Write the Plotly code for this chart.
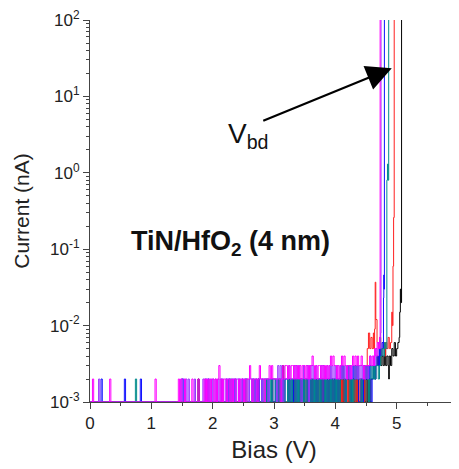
import plotly.graph_objects as go

# Sweep step of the measurement (V) and current resolution (nA per digit)
STEP = 0.02
UNIT = 1e-3

# Low-bias noise records: one digit per sweep point, current in pA (0 V ... 4.58 V)
black_noise = ("1111111111 1111111111 1111111111 1111111111 1111111111 1111111111 "
               "1111111111 1111111111 1111111121 1111111111 1111111111 1111111111 "
               "1111111111 1111111211 1111111111 1111111311 1211112111 1121111211 "
               "2112121121 1211211212 1212121212 2121212121 1212121212")
red_noise = ("1111111111 1111111111 1111111111 1111111111 1111111111 1111111111 "
             "1111111111 1111111111 1111111111 1111111111 1111111111 1111111111 "
             "1111111111 1111111111 1111111121 1111211111 1121111211 1211121121 "
             "1212112121 2121121211 1211121121 2111211211 2121235857")
blue_noise = ("1111111112 1111111111 1111111121 1111111111 1211111111 1111111111 "
              "1111111111 1111121111 1111111111 1111212111 1111111211 1212112121 "
              "1211212111 1121121211 2112121121 1212121212 2121212121 1212122121 "
              "2121212212 1212121212 1212323212 2321232321 1212323231")
teal_noise = ("1111111111 1111111111 1111111111 1111111211 1111111111 1111111111 "
              "1111111111 1111111111 1111111111 1111111111 1111111111 1111211111 "
              "1111111211 1112111111 1121211212 2121212121 1212122121 2121212112 "
              "1212121212 2121212121 2121323212 3212123232 2123232123")
violet_noise = ("1111111211 1111111111 1111111111 1111111111 1111111111 1111111111 "
                "1111111111 1111222121 2111121111 1121212121 2121212121 1212121212 "
                "2121212221 2212122122 1222212222 2213232122 2232223232 3212322313 "
                "2322322232 3223232323 2322323232 3232332323 2323232343")
magenta_noise = ("1121111111 1111112111 1111111111 1111111111 1111111111 1112111111 "
                 "1111111111 1121211211 1112111121 1112121212 2121231212 2122121221 "
                 "1212212122 3212221232 2212223232 2222212323 3232332323 2323323232 "
                 "3432323323 2323234343 3232343432 3323434343 3432333343")

# Breakdown tails (V, nA)
black_tail_v = [4.60, 4.62, 4.64, 4.66, 4.68, 4.70, 4.72, 4.74, 4.76, 4.78, 4.80, 4.82, 4.84, 4.86,
                4.87, 4.88, 4.90, 4.92, 4.94, 4.96, 4.98, 5.00, 5.02, 5.04, 5.05, 5.06, 5.07, 5.08]
black_tail_i = [0.002, 0.003, 0.002, 0.003, 0.004, 0.003, 0.005, 0.003, 0.004, 0.003, 0.005, 0.003,
                0.004, 0.003, 0.002, 0.004, 0.003, 0.005, 0.004, 0.006, 0.004, 0.005, 0.006, 0.007,
                0.015, 0.03, 0.02, 100]
red_tail_v = [4.60, 4.62, 4.63, 4.64, 4.65, 4.66, 4.68, 4.70, 4.72, 4.74, 4.76, 4.78, 4.80, 4.82,
              4.84, 4.86, 4.88, 4.90, 4.92, 4.93, 4.94, 4.95, 4.96]
red_tail_i = [0.005, 0.008, 0.005, 0.009, 0.037, 0.012, 0.006, 0.005, 0.007, 0.004, 0.005, 0.006,
              0.004, 0.006, 0.005, 0.007, 0.005, 0.006, 0.015, 0.01, 0.06, 0.26, 100]
blue_tail_v = [4.60, 4.62, 4.64, 4.66, 4.68, 4.70, 4.72, 4.74, 4.76, 4.78, 4.785, 4.79, 4.795, 4.80]
blue_tail_i = [0.002, 0.003, 0.002, 0.003, 0.004, 0.003, 0.005, 0.004, 0.006, 0.005, 0.023, 0.046,
               0.03, 100]
teal_tail_v = [4.60, 4.62, 4.64, 4.66, 4.68, 4.70, 4.72, 4.74, 4.76, 4.78, 4.80, 4.82, 4.84, 4.85,
               4.86, 4.87]
teal_tail_i = [0.002, 0.003, 0.002, 0.003, 0.003, 0.002, 0.003, 0.004, 0.005, 0.004, 0.006, 0.005,
               0.8, 1.3, 0.8, 100]
violet_tail_v = [4.60, 4.62, 4.64, 4.66, 4.68, 4.70, 4.72, 4.74, 4.745]
violet_tail_i = [0.003, 0.004, 0.003, 0.005, 0.004, 0.006, 0.005, 0.008, 100]
magenta_tail_v = [4.60, 4.62, 4.64, 4.66, 4.68, 4.70, 4.72, 4.73]
magenta_tail_i = [0.004, 0.003, 0.005, 0.004, 0.006, 0.005, 0.007, 100]

series = [
    ("black", "#000000", black_noise, black_tail_v, black_tail_i),
    ("red", "#FF2020", red_noise, red_tail_v, red_tail_i),
    ("blue", "#1010FF", blue_noise, blue_tail_v, blue_tail_i),
    ("teal", "#008B8B", teal_noise, teal_tail_v, teal_tail_i),
    ("violet", "#9933FF", violet_noise, violet_tail_v, violet_tail_i),
    ("magenta", "#FF00FF", magenta_noise, magenta_tail_v, magenta_tail_i),
]

x_ticks = [0, 1, 2, 3, 4, 5, 6]
y_ticks = [1e-3, 1e-2, 1e-1, 1e0, 1e1, 1e2]
y_ticktext = ["10<sup>-3</sup>", "10<sup>-2</sup>", "10<sup>-1</sup>",
              "10<sup>0</sup>", "10<sup>1</sup>", "10<sup>2</sup>"]

# Arrow tip (V, log10 nA)
arrow_tip_v = 4.92
arrow_tip_logi = 1.368

fig = go.Figure()
for name, color, noise, tv, ti in series:
    digits = noise.replace(" ", "")
    xs = [round(k * STEP, 4) for k in range(len(digits))] + tv
    ys = [int(d) * UNIT for d in digits] + ti
    fig.add_trace(go.Scatter(x=xs, y=ys, mode="lines", name=name,
                             line=dict(color=color, width=1, shape="hv"), hoverinfo="skip"))

minor_y = [m * 10 ** e for e in range(-3, 2) for m in range(2, 10)]

fig.update_layout(
    width=459, height=469,
    margin=dict(l=82, r=9, t=12, b=75, autoexpand=False),
    plot_bgcolor="white", paper_bgcolor="white",
    showlegend=False,
    font=dict(family="Liberation Sans, Arial, sans-serif", color="#222222"),
)
fig.update_xaxes(
    range=[0, 6], tickvals=x_ticks, ticktext=[str(t) for t in x_ticks],
    automargin=False, ticklabeloverflow="allow",
    showline=True, linecolor="#444444", linewidth=1, mirror=False,
    ticks="outside", ticklen=6, tickcolor="#444444",
    minor=dict(ticks="outside", ticklen=3, dtick=0.5, tickcolor="#444444"),
    showgrid=False, zeroline=False,
    tickfont=dict(size=17),
    title=dict(text="Bias (V)", font=dict(size=24), standoff=8),
)
fig.update_yaxes(
    type="log", range=[-3, 2], tickvals=y_ticks, ticktext=y_ticktext,
    automargin=False, ticklabeloverflow="allow",
    showline=True, linecolor="#444444", linewidth=1,
    ticks="outside", ticklen=6, tickcolor="#444444",
    minor=dict(ticks="outside", ticklen=3, tickvals=minor_y, tickcolor="#444444"),
    showgrid=False, zeroline=False,
    tickfont=dict(size=17),
    title=dict(text="Current (nA)", font=dict(size=21), standoff=14),
)

fig.add_annotation(x=arrow_tip_v, y=arrow_tip_logi, xref="x", yref="y",
                   axref="pixel", ayref="pixel", text="", showarrow=True, ax=-130, ay=53,
                   arrowhead=2, arrowsize=2.3, arrowwidth=2.2, arrowcolor="#000000")
fig.add_annotation(x=0.43, y=0.697, xref="paper", yref="paper", xanchor="center", yanchor="middle",
                   text="V<sub>bd</sub>", showarrow=False,
                   font=dict(size=28, color="#111111"))
fig.add_annotation(x=0.381, y=0.416, xref="paper", yref="paper", xanchor="center", yanchor="middle",
                   text="<b>TiN/HfO<sub>2</sub> (4 nm)</b>", showarrow=False,
                   font=dict(size=27, color="#111111"))

fig.write_html("out.html")
